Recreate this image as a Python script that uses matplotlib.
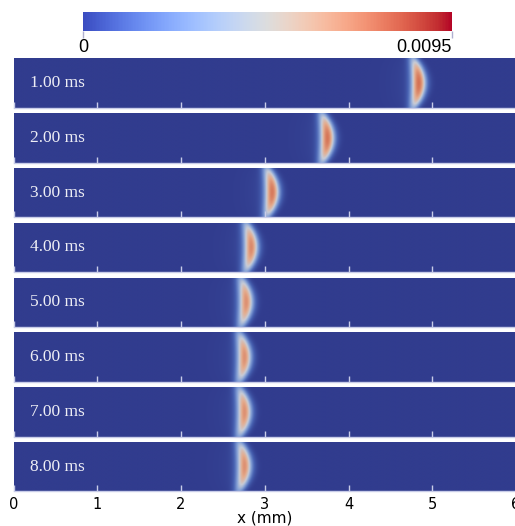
import numpy as np
import matplotlib
matplotlib.use("Agg")
import matplotlib.pyplot as plt
from matplotlib.colors import LinearSegmentedColormap, Normalize

# snapshot times (ms), front position at mid-height (mm), peak value
times = [1.0, 2.0, 3.0, 4.0, 5.0, 6.0, 7.0, 8.0]
front_x = [4.83, 3.74, 3.08, 2.83, 2.77, 2.75, 2.75, 2.75]
peak = [0.0077, 0.0076, 0.0075, 0.0071, 0.0069, 0.0069, 0.0069, 0.0069]

vmax = 0.0095
x_ticks = [0, 1, 2, 3, 4, 5, 6]

# domain and front shape (mm)
Lx, Ly = 6.0, 0.6
sigma = 0.066
bow = 0.065
tail_len = 0.2
tail_frac = 0.1

# shaded coolwarm for the rendered slices
shade = LinearSegmentedColormap.from_list("shaded", [
    (0.00, (49/255, 60/255, 142/255)),
    (0.15, (72/255, 98/255, 178/255)),
    (0.35, (135/255, 163/255, 215/255)),
    (0.50, (200/255, 204/255, 214/255)),
    (0.65, (228/255, 172/255, 142/255)),
    (0.80, (214/255, 118/255, 88/255)),
    (1.00, (180/255, 35/255, 45/255)),
])

W, H = 515, 526
fig = plt.figure(figsize=(W / 100, H / 100), dpi=100)

x = np.linspace(0, Lx, 1200)
y = np.linspace(0, Ly, 80)
X, Y = np.meshgrid(x, y)
u = (Y - Ly / 2) / (Ly / 2)

left = 13.5 / W
width = 502.5 / W
top0, pitch, hgt = 58.3, 54.8, 49.5

for i, (t, xc, a) in enumerate(zip(times, front_x, peak)):
    top = top0 + i * pitch
    ax = fig.add_axes([left, 1 - (top + hgt) / H, width, hgt / H])
    xf = xc - bow * u**2
    prof = 1 - 0.55 * u**2
    core = np.exp(-0.5 * ((X - xf) / (sigma * (1 - 0.25 * u**2))) ** 2)
    d = xf - X
    tail = np.where(d > 0, np.exp(-d / tail_len), 0) * (1 - core)
    field = a * prof * (core + tail_frac * tail)
    ax.imshow(field, extent=[0, Lx, 0, Ly], origin="lower", aspect="auto",
              cmap=shade, norm=Normalize(0, vmax), interpolation="bilinear")
    ax.set_xlim(0, Lx)
    ax.set_ylim(0, Ly)
    ax.set_yticks([])
    ax.set_xticks(x_ticks)
    ax.tick_params(axis="x", direction="in", length=4, width=1,
                   color="#c8cce8", pad=4, labelsize=10.5)
    for s in ("top", "left", "right"):
        ax.spines[s].set_visible(False)
    ax.spines["bottom"].set_color("#c8cce8")
    ax.spines["bottom"].set_linewidth(1)
    ax.text(0.2, Ly / 2, f"{t:.2f} ms", color="#eeeef5", fontsize=12.5,
            family="Liberation Serif", va="center", ha="left")
    if i < len(times) - 1:
        ax.tick_params(axis="x", labelbottom=False)
    else:
        ax.set_xlabel("x (mm)", fontsize=11, labelpad=-1)

# colour bar
cax = fig.add_axes([83 / W, 1 - 31 / H, 369 / W, 18.7 / H])
sm = plt.cm.ScalarMappable(norm=Normalize(0, vmax), cmap="coolwarm")
cb = fig.colorbar(sm, cax=cax, orientation="horizontal")
cb.outline.set_visible(False)
cb.set_ticks([0, vmax])
cb.set_ticklabels(["0", "0.0095"])
cax.tick_params(axis="x", length=5, width=1, pad=1, labelsize=13,
                color="#b0b0d0")
for lab in cax.get_xticklabels():
    lab.set_family("Liberation Sans")
cax.get_xticklabels()[1].set_ha("right")

fig.savefig("out.png", dpi=100)
